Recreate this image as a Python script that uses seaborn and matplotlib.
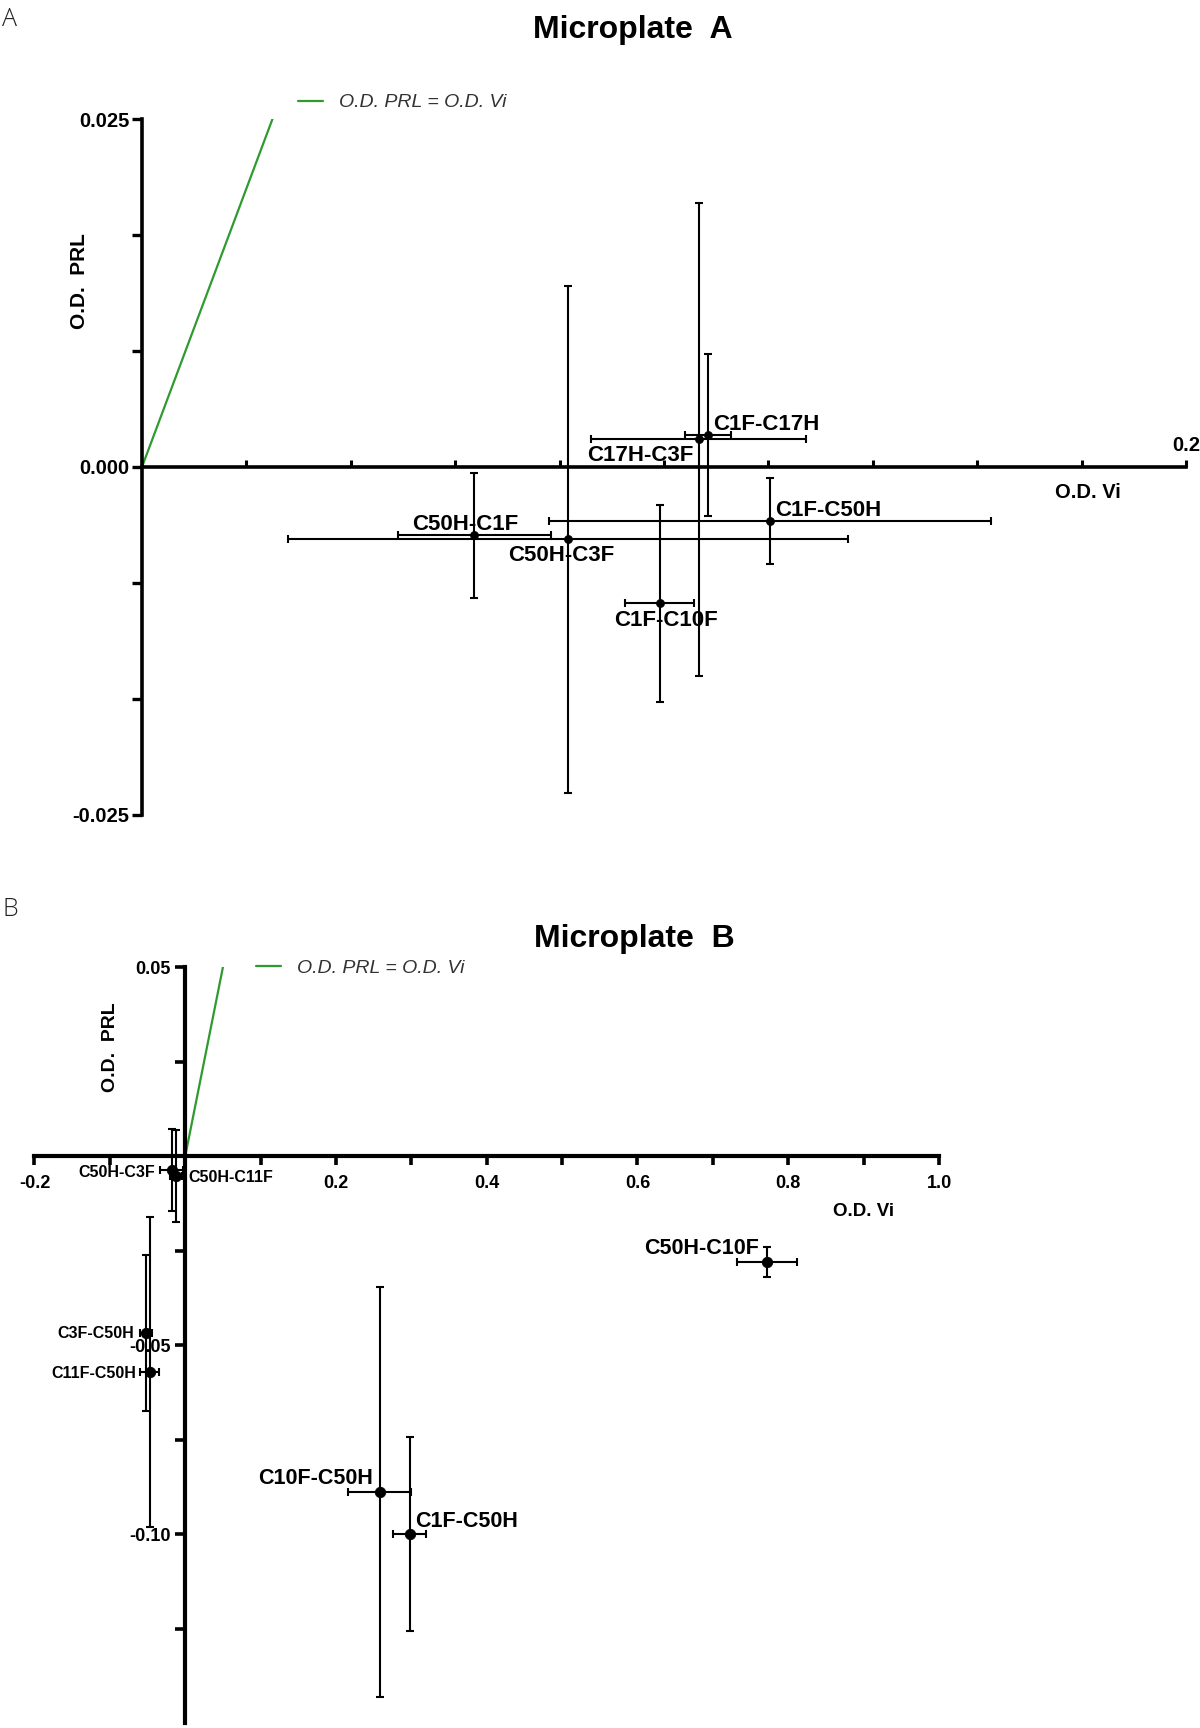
import numpy as np
import matplotlib
matplotlib.use('Agg')
import matplotlib.pyplot as plt
import seaborn as sns

# data
a_labels = ['C1F-C17H', 'C17H-C3F', 'C1F-C50H', 'C50H-C1F', 'C50H-C3F', 'C1F-C10F']
a_vi = [0.1085, 0.1067, 0.1203, 0.0637, 0.0816, 0.0992]
a_prl = [0.0023, 0.0020, -0.0039, -0.0049, -0.0052, -0.0098]
a_vi_err = [0.0044, 0.0206, 0.0423, 0.0146, 0.0537, 0.0066]
a_prl_err = [0.0058, 0.0170, 0.0031, 0.0045, 0.0182, 0.0071]

b_labels = ['C50H-C3F', 'C50H-C11F', 'C3F-C50H', 'C11F-C50H', 'C10F-C50H', 'C1F-C50H', 'C50H-C10F']
b_vi = [-0.0178, -0.0127, -0.0524, -0.0473, 0.2580, 0.2978, 0.7720]
b_prl = [-0.0036, -0.0052, -0.0467, -0.0572, -0.0889, -0.1000, -0.0280]
b_vi_err = [0.015, 0.008, 0.008, 0.0127, 0.0415, 0.0216, 0.0397]
b_prl_err = [0.0108, 0.0122, 0.0206, 0.0410, 0.0543, 0.0256, 0.0040]

ident_a = [0.0, 0.2]
ident_b = [0.0, 1.0]

a_yticks = [-0.025, -0.025 * 2 / 3, -0.025 / 3, 0.0, 0.025 / 3, 0.025 * 2 / 3, 0.025]
a_yticklabels = ['-0.025', '', '', '0.000', '', '', '0.025']
b_xticks = [-0.2, -0.1, 0.0, 0.1, 0.2, 0.3, 0.4, 0.5, 0.6, 0.7, 0.8, 0.9, 1.0]
b_xticklabels = ['-0.2', '', '', '', '0.2', '', '0.4', '', '0.6', '', '0.8', '', '1.0']
b_yticks = [-0.125, -0.1, -0.075, -0.05, -0.025, 0.0, 0.025, 0.05]
b_yticklabels = ['', '-0.10', '', '-0.05', '', '', '', '0.05']

legend_text = 'O.D. PRL = O.D. Vi'
green = '#2f9a2f'

sns.set_style('ticks')
plt.rcParams['font.family'] = ['Liberation Sans', 'DejaVu Sans']
plt.rcParams['text.color'] = 'black'
plt.rcParams['axes.labelcolor'] = 'black'
plt.rcParams['xtick.color'] = 'black'
plt.rcParams['ytick.color'] = 'black'

PX = 0.72  # pixels -> points at dpi 100

fig = plt.figure(figsize=(12, 17.28), dpi=100)


def style_axes(ax, lw):
    for s in ['top', 'right']:
        ax.spines[s].set_visible(False)
    ax.spines['left'].set_position(('data', 0))
    ax.spines['bottom'].set_position(('data', 0))
    ax.spines['left'].set_linewidth(lw)
    ax.spines['bottom'].set_linewidth(lw)
    ax.spines['left'].set_color('black')
    ax.spines['bottom'].set_color('black')
    ax.set_facecolor('white')


# ---------------- Microplate A ----------------
axA = fig.add_axes([0.1183, 0.5284, 0.870, 0.4027])
axA.set_xlim(0, 0.2)
axA.set_ylim(-0.025, 0.025)
style_axes(axA, 2.6)

axA.plot(ident_a, ident_a, color=green, lw=1.6, label=legend_text, zorder=2)
axA.errorbar(a_vi, a_prl, xerr=a_vi_err, yerr=a_prl_err, fmt='none', ecolor='black',
             elinewidth=1.5, capsize=3.2, capthick=1.5, zorder=3)
sns.scatterplot(x=a_vi, y=a_prl, color='black', s=34, edgecolor='black', ax=axA,
                legend=False, zorder=4)

axA.set_xticks(np.arange(0, 0.2001, 0.02))
axA.set_xticklabels([])
axA.tick_params(axis='x', direction='in', length=5, width=2.2)
axA.set_yticks(a_yticks)
axA.set_yticklabels(a_yticklabels, fontsize=14.5, fontweight='bold')
axA.tick_params(axis='y', direction='out', length=7, width=2.4, pad=2)

a_offsets = [(5, 5, 'left', 'baseline'), (-5, -6, 'right', 'top'), (5, 5, 'left', 'baseline'),
             (-9, 5, 'center', 'baseline'), (-7, -6, 'center', 'top'), (6, -7, 'center', 'top')]
for lab, x, y, (dx, dy, ha, va) in zip(a_labels, a_vi, a_prl, a_offsets):
    axA.annotate(lab, (x, y), xytext=(dx * PX, dy * PX), textcoords='offset points',
                 ha=ha, va=va, fontsize=16, fontweight='bold', zorder=5)

axA.annotate('0.2', (0.2, 0), xytext=(0, 12 * PX), textcoords='offset points',
             ha='center', va='bottom', fontsize=14.5, fontweight='bold', annotation_clip=False)
axA.text(0.906, 0.464, 'O.D. Vi', transform=axA.transAxes, ha='center', va='center',
         fontsize=14.5, fontweight='bold')
axA.text(-0.060, 0.767, 'O.D.  PRL', transform=axA.transAxes, ha='center', va='center',
         rotation=90, fontsize=15, fontweight='bold')

h, l = axA.get_legend_handles_labels()
fig.legend(h, l, loc='center left', bbox_to_anchor=(298 / 1200, 1 - 102.5 / 1728),
           frameon=False, handlelength=1.3, handletextpad=0.8, borderpad=0, borderaxespad=0,
           prop={'size': 14, 'style': 'italic'}, labelcolor='#333333')

fig.text(0.5275, 0.9826, 'Microplate  A', ha='center', va='center', fontsize=23, fontweight='bold')
fig.text(0.002, 0.996, 'A', ha='left', va='top', fontsize=18, family=['Open Sans', 'DejaVu Sans'],
         fontweight='light', color='#222222')

# ---------------- Microplate B ----------------
axB = fig.add_axes([0.0287, 0.0029, 0.7538, 0.4373])
axB.set_xlim(-0.2, 1.0)
axB.set_ylim(-0.15, 0.05)
style_axes(axB, 3.0)

axB.plot(ident_b, ident_b, color=green, lw=1.6, label=legend_text, zorder=2)
axB.errorbar(b_vi, b_prl, xerr=b_vi_err, yerr=b_prl_err, fmt='none', ecolor='black',
             elinewidth=1.5, capsize=3.2, capthick=1.5, zorder=3)
sns.scatterplot(x=b_vi, y=b_prl, color='black', s=56, edgecolor='black', ax=axB,
                legend=False, zorder=4)

axB.set_xticks(b_xticks)
axB.set_xticklabels(b_xticklabels, fontsize=13, fontweight='bold')
axB.tick_params(axis='x', direction='out', length=6.5, width=2.6, pad=7)
axB.set_yticks(b_yticks)
axB.set_yticklabels(b_yticklabels, fontsize=13, fontweight='bold')
axB.tick_params(axis='y', direction='out', length=7, width=2.6, pad=3.6)

b_offsets = [(-17, -1, 'right', 'center_baseline', 11.5), (13, 0, 'left', 'center_baseline', 11.5),
             (-12, 1, 'right', 'center_baseline', 11.5), (-13, 0, 'right', 'center_baseline', 11.5),
             (-7, 8, 'right', 'baseline', 15.5), (5, 7, 'left', 'baseline', 15.5),
             (-8, 8, 'right', 'baseline', 15.5)]
for lab, x, y, (dx, dy, ha, va, fs) in zip(b_labels, b_vi, b_prl, b_offsets):
    axB.annotate(lab, (x, y), xytext=(dx * PX, dy * PX), textcoords='offset points',
                 ha=ha, va=va, fontsize=fs, fontweight='bold', zorder=5)

axB.text(0.917, 0.6775, 'O.D. Vi', transform=axB.transAxes, ha='center', va='center',
         fontsize=13.5, fontweight='bold')
axB.text(0.0836, 0.8945, 'O.D.  PRL', transform=axB.transAxes, ha='center', va='center',
         rotation=90, fontsize=14, fontweight='bold')

h, l = axB.get_legend_handles_labels()
fig.legend(h, l, loc='center left', bbox_to_anchor=(256 / 1200, 1 - 968 / 1728),
           frameon=False, handlelength=1.3, handletextpad=0.8, borderpad=0, borderaxespad=0,
           prop={'size': 14, 'style': 'italic'}, labelcolor='#333333')

fig.text(0.529, 0.4566, 'Microplate  B', ha='center', va='center', fontsize=23, fontweight='bold')
fig.text(0.002, 0.4809, 'B', ha='left', va='top', fontsize=18, family=['Open Sans', 'DejaVu Sans'],
         fontweight='light', color='#222222')

fig.savefig('out.png', dpi=100, facecolor='white')
